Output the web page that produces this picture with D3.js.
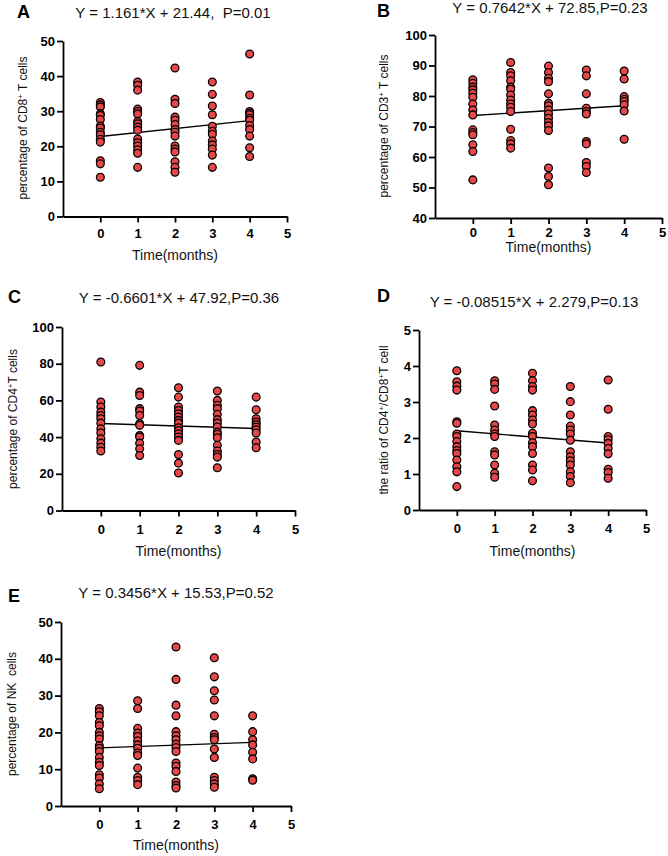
<!DOCTYPE html>
<html>
<head>
<meta charset="utf-8">
<script src="https://cdn.jsdelivr.net/npm/d3@7"></script>
<style>
  html, body { margin: 0; padding: 0; background: #fff; }
  svg { display: block; font-family: "Liberation Sans", Arial, sans-serif; }
</style>
</head>
<body>
<svg id="chart" width="668" height="856"></svg>
<script>
// ---------- data ----------
const months = [0, 1, 2, 3, 4];
const xTicks = [0, 1, 2, 3, 4, 5];

// Panel A: percentage of CD8+ T cells (one array per month)
const cd8 = [
  [32.5, 31.8, 31.2, 29.3, 28.8, 27.6, 25.8, 25.2, 24.0, 23.3, 22.0, 21.2, 15.9, 15.0, 11.2],
  [38.3, 37.4, 36.0, 30.6, 29.9, 29.2, 27.1, 26.4, 25.5, 24.6, 22.1, 21.0, 20.1, 19.0, 18.0, 14.0],
  [42.3, 33.4, 32.2, 28.3, 27.4, 26.2, 24.8, 24.0, 22.9, 20.1, 19.2, 18.4, 15.6, 14.0, 12.6],
  [38.3, 34.8, 31.5, 29.0, 25.7, 24.3, 23.4, 21.5, 20.4, 19.2, 17.5, 14.0],
  [46.3, 34.6, 29.9, 29.4, 29.0, 28.0, 27.4, 25.9, 24.8, 22.9, 19.6, 17.1]
];
const cd8Fit = [22.8, 27.3];
const cd8Ticks = [0, 10, 20, 30, 40, 50];

// Panel B: percentage of CD3+ T cells
const cd3 = [
  [85.3, 84.2, 82.9, 82.0, 80.9, 79.6, 77.4, 75.4, 73.8, 68.9, 68.0, 67.3, 64.0, 61.8, 52.5],
  [91.0, 87.7, 86.6, 85.0, 82.9, 82.2, 80.3, 78.7, 77.4, 76.3, 74.9, 69.1, 65.4, 64.3, 62.9],
  [89.8, 87.7, 85.8, 84.7, 80.7, 77.6, 76.8, 75.4, 74.1, 72.7, 71.3, 70.2, 68.7, 56.4, 53.6, 50.9],
  [88.5, 86.6, 80.7, 76.0, 74.9, 74.1, 65.1, 64.3, 58.2, 56.9, 54.9],
  [88.2, 85.6, 79.8, 78.9, 78.2, 77.1, 75.1, 65.8]
];
const cd3Fit = [73.6, 76.8];
const cd3Ticks = [40, 50, 60, 70, 80, 90, 100];

// Panel C: percentage of CD4+ T cells
const cd4 = [
  [80.9, 59.1, 56.4, 53.6, 51.8, 50.0, 47.6, 44.5, 42.2, 39.1, 36.7, 34.5, 32.4],
  [79.1, 64.5, 62.7, 55.5, 54.2, 51.8, 47.3, 46.4, 40.9, 40.0, 36.7, 33.6, 30.0],
  [66.9, 61.8, 56.4, 54.5, 52.7, 50.9, 49.1, 47.6, 45.1, 43.6, 41.8, 40.0, 38.2, 30.5, 25.8, 20.4],
  [65.1, 60.0, 57.3, 55.5, 52.4, 49.5, 47.6, 45.5, 42.7, 41.5, 39.6, 35.5, 32.4, 30.5, 29.1, 23.3],
  [61.8, 54.9, 50.0, 48.2, 46.9, 45.5, 44.0, 42.2, 37.3, 34.2]
];
const cd4Fit = [47.4, 44.7];
const cd4Ticks = [0, 20, 40, 60, 80, 100];

// Panel D: ratio CD4+/CD8+
const ratio = [
  [3.87, 3.56, 3.44, 3.33, 2.45, 2.41, 2.11, 2.04, 1.90, 1.76, 1.65, 1.57, 1.39, 1.20, 1.06, 0.65],
  [3.59, 3.50, 3.35, 2.89, 2.36, 2.22, 2.11, 2.04, 1.62, 1.53, 1.25, 1.02, 0.91],
  [3.80, 3.59, 3.43, 3.33, 2.76, 2.64, 2.50, 2.39, 2.13, 2.04, 1.87, 1.76, 1.57, 1.25, 1.11, 0.81],
  [3.43, 3.01, 2.64, 2.33, 2.22, 2.11, 1.94, 1.62, 1.48, 1.37, 1.25, 1.06, 0.93, 0.76],
  [3.61, 2.80, 2.04, 1.96, 1.85, 1.71, 1.56, 1.13, 1.04, 0.88]
];
const ratioFit = [2.20, 1.86];
const ratioTicks = [0, 1, 2, 3, 4, 5];

// Panel E: percentage of NK cells
const nk = [
  [26.5, 25.6, 24.5, 22.7, 21.8, 20.0, 19.1, 18.2, 16.4, 15.7, 14.8, 13.2, 11.9, 11.0, 8.5, 7.6, 6.0, 4.7],
  [28.6, 26.5, 21.1, 19.8, 18.9, 17.7, 16.6, 15.7, 14.4, 13.7, 10.3, 7.8, 6.9, 5.8],
  [43.2, 34.4, 27.4, 24.5, 20.2, 19.1, 18.0, 16.8, 15.9, 14.8, 11.7, 10.8, 9.4, 6.5, 5.6, 4.9],
  [40.3, 35.1, 31.3, 28.8, 24.5, 19.5, 18.6, 18.0, 15.5, 13.2, 7.8, 6.9, 6.0, 5.1],
  [24.5, 20.2, 18.0, 16.6, 14.6, 12.8, 7.4, 7.0]
];
const nkFit = [15.8, 17.3];
const nkTicks = [0, 10, 20, 30, 40, 50];

const letters = ["A", "B", "C", "D", "E"];
const equations = [
  "Y = 1.161*X + 21.44,  P=0.01",
  "Y = 0.7642*X + 72.85,P=0.23",
  "Y = -0.6601*X + 47.92,P=0.36",
  "Y = -0.08515*X + 2.279,P=0.13",
  "Y = 0.3456*X + 15.53,P=0.52"
];
const xTitle = "Time(months)";

// ---------- layout ----------
const panels = [
  { values: cd8, fit: cd8Fit, ticks: cd8Ticks, ylab: [["percentage of CD8"], ["+", true], [" T cells"]],
    x0: 63, x1: 287, yTop: 41, yBot: 216.5, letterX: 17, letterY: 18, titleX: 173, titleY: 18,
    ylabX: 23, ylabY: 128, xtitleY: 260, pad: 6 },
  { values: cd3, fit: cd3Fit, ticks: cd3Ticks, ylab: [["percentage of CD3"], ["+", true], [" T cells"]],
    x0: 435, x1: 662, yTop: 35, yBot: 218, letterX: 377, letterY: 17, titleX: 550, titleY: 13,
    ylabX: 384, ylabY: 126, xtitleY: 252, pad: 4 },
  { values: cd4, fit: cd4Fit, ticks: cd4Ticks, ylab: [["percentage of CD4"], ["+", true], ["T cells"]],
    x0: 62, x1: 295, yTop: 327, yBot: 510.5, letterX: 8, letterY: 303, titleX: 179, titleY: 303,
    ylabX: 13, ylabY: 419, xtitleY: 556, pad: 8 },
  { values: ratio, fit: ratioFit, ticks: ratioTicks, ylab: [["the ratio of CD4"], ["+", true], ["/CD8"], ["+", true], ["T cell"]],
    x0: 419, x1: 646, yTop: 330, yBot: 510, letterX: 377, letterY: 302, titleX: 534, titleY: 307,
    ylabX: 384, ylabY: 420, xtitleY: 556, pad: 8 },
  { values: nk, fit: nkFit, ticks: nkTicks, ylab: [["percentage of NK\u00a0 cells"]],
    x0: 61, x1: 291, yTop: 622, yBot: 806, letterX: 8, letterY: 602, titleX: 176, titleY: 598,
    ylabX: 12, ylabY: 714, xtitleY: 850, pad: 8 }
];

const svg = d3.select("#chart");
const red = "#e8474a";
const fmt = d => String(d);

panels.forEach((p, i) => {
  const g = svg.append("g");
  const x = d3.scaleLinear().domain([-1, 5]).range([p.x0, p.x1]);
  const y = d3.scaleLinear().domain([p.ticks[0], p.ticks[p.ticks.length - 1]]).range([p.yBot, p.yTop]);

  // panel letter
  g.append("text").attr("x", p.letterX).attr("y", p.letterY)
    .attr("font-size", 18).attr("font-weight", "bold").attr("fill", "#000").text(letters[i]);
  // equation title
  g.append("text").attr("x", p.titleX).attr("y", p.titleY).attr("text-anchor", "middle")
    .attr("font-size", 15).attr("fill", "#111").style("white-space", "pre").text(equations[i]);

  // axes
  const xAxis = d3.axisBottom(x).tickValues(xTicks).tickFormat(fmt).tickSize(6).tickSizeOuter(0).tickPadding(p.pad);
  const yAxis = d3.axisLeft(y).tickValues(p.ticks).tickFormat(fmt).tickSize(6).tickSizeOuter(0).tickPadding(2);

  const gx = g.append("g").attr("transform", `translate(0,${p.yBot})`).call(xAxis);
  const gy = g.append("g").attr("transform", `translate(${p.x0},0)`).call(yAxis);
  [gx, gy].forEach(a => {
    a.select(".domain").attr("stroke", "#000").attr("stroke-width", 1.8);
    a.selectAll(".tick line").attr("stroke", "#000").attr("stroke-width", 1.8);
    a.selectAll(".tick text").attr("font-size", 13).attr("font-weight", "bold")
      .attr("fill", "#000").attr("font-family", "'Liberation Sans', Arial, sans-serif");
  });

  // axis titles
  g.append("text").attr("x", x(2)).attr("y", p.xtitleY).attr("text-anchor", "middle")
    .attr("font-size", 14).attr("fill", "#111").text(xTitle);

  const yl = g.append("text")
    .attr("transform", `translate(${p.ylabX},${p.ylabY}) rotate(-90)`)
    .attr("text-anchor", "middle").attr("dy", "0.35em")
    .attr("font-size", 12).attr("fill", "#111").style("white-space", "pre");
  p.ylab.forEach(([t, sup]) => {
    const ts = yl.append("tspan").text(t);
    if (sup) ts.attr("baseline-shift", "super").attr("font-size", 8);
  });

  // fit line
  g.append("line")
    .attr("x1", x(months[0])).attr("y1", y(p.fit[0]))
    .attr("x2", x(months[4])).attr("y2", y(p.fit[1]))
    .attr("stroke", "#000").attr("stroke-width", 1.4);

  // points
  const pts = [];
  p.values.forEach((arr, m) => arr.forEach(v => pts.push({ m: months[m], v })));
  g.selectAll("circle.pt").data(pts).enter().append("circle")
    .attr("class", "pt")
    .attr("cx", d => x(d.m)).attr("cy", d => y(d.v)).attr("r", 3.9)
    .attr("fill", red).attr("stroke", "#000").attr("stroke-width", 1.3);
});
</script>
</body>
</html>
